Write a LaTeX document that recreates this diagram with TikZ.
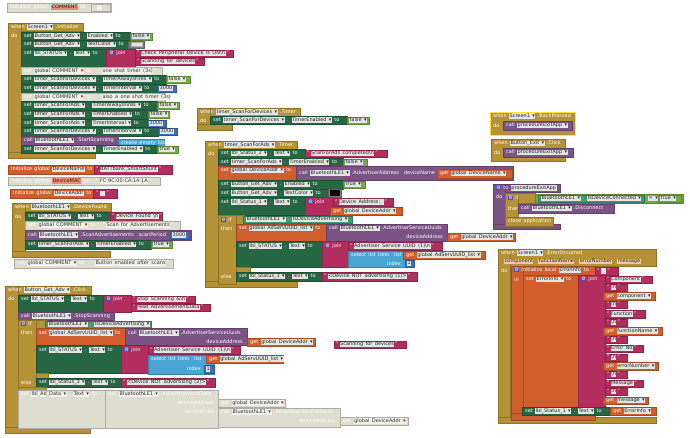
\documentclass[tikz,border=0pt]{standalone}
\usepackage{fontspec}
\setmainfont{DejaVu Sans}
\definecolor{gold}{RGB}{181,146,54}
\definecolor{dgreen}{RGB}{38,102,67}
\definecolor{lgreen}{RGB}{119,171,65}
\definecolor{teal2}{RGB}{67,153,112}
\definecolor{mag}{RGB}{179,45,94}
\definecolor{mblue}{RGB}{63,113,181}
\definecolor{orng}{RGB}{208,95,45}
\definecolor{purp}{RGB}{124,83,133}
\definecolor{lblue}{RGB}{73,166,212}
\definecolor{cgray}{RGB}{125,125,125}
\definecolor{dis}{RGB}{222,222,208}
\definecolor{fldc}{RGB}{226,229,226}
\definecolor{fldd}{RGB}{242,242,236}
\definecolor{fsal}{RGB}{238,140,115}
\definecolor{fpea}{RGB}{246,196,172}
\definecolor{gearc}{RGB}{70,80,190}
\definecolor{hil}{RGB}{250,225,60}
\newcommand\fs{\fontsize{5}{6}\selectfont\spaceskip=2.4pt plus 0.3pt}
\newcommand\fd[1]{{\setlength{\fboxsep}{0.5pt}\colorbox{fldc}{\textcolor{black!85}{\vphantom{Agy}#1}}}}
\newcommand\fdd[1]{{\setlength{\fboxsep}{0.5pt}\colorbox{fldd}{\textcolor{black!80}{\vphantom{Agy}#1}}}}
\newcommand\fds[1]{{\setlength{\fboxsep}{0.5pt}\colorbox{fsal}{\textcolor{black!85}{\vphantom{Agy}#1}}}}
\newcommand\fdp[1]{{\setlength{\fboxsep}{0.5pt}\colorbox{fpea}{\textcolor{black!85}{\vphantom{Agy}#1}}}}
\newcommand\gr{{\setlength{\fboxsep}{0.2pt}\colorbox{gearc}{\textcolor{white}{⚙}}}}
\newcommand\dd{▾}
\newcommand\rd{\textcolor{red!70!black}{▾}}
\newcommand\str[1]{“\,\fd{#1}\,”}
\newcommand\strd[1]{“\,\fdd{#1}\,”}
\newcommand\R[5]{\fill[#5,draw=#5!78!black,line width=0.3pt] (#1,#2) rectangle (#3,#4);}
\newcommand\T[3]{\node[tx] at (#1,#2) {#3};}
\newcommand\TE[3]{\node[txr] at (#1,#2) {#3};}
\begin{document}
\begin{tikzpicture}[x=1pt,y=-1pt,
  tx/.style={anchor=west,inner sep=0,text=white,font=\fs},
  txr/.style={anchor=east,inner sep=0,text=white,font=\fs}]
\fill[white] (0,0) rectangle (690,437);
\useasboundingbox (0,0) rectangle (690,437);

% ---- initialize global COMMENT (disabled)
\R{7}{3}{111}{12}{dis}
\T{10}{7.5}{initialize global \fds{COMMENT} to}
\R{91}{4}{110}{11}{dis}
\T{93}{7.5}{\strd{\ \ }}

% ---- Screen1.Initialize
\R{8}{23}{83}{31}{gold}
\R{8}{23}{21}{158}{gold}
\R{8}{152}{95}{158}{gold}
\T{11}{27}{when \fd{Screen1 \dd} .Initialize}
\T{11}{36}{do}
\R{21}{32}{130}{40}{dgreen}\T{24}{36}{set \fd{Button\_Get\_Adv \dd} . \fd{Enabled \dd} to}
\R{130}{33}{152}{40}{lgreen}\T{132}{36.5}{\fd{false \dd}}
\R{21}{40}{128}{49}{dgreen}\T{24}{44.5}{set \fd{Button\_Get\_Adv \dd} . \fd{TextColor \dd} to}
\R{128}{41}{144}{48}{cgray}\R{131}{42.5}{142}{46.5}{fldc}
\R{21}{49}{106}{67}{dgreen}\T{24}{53.5}{set \fd{lbl\_STATUS \dd} . \fd{Text \dd} to}
\R{106}{49}{135}{67}{mag}\T{109}{53.5}{\gr\ join}
\R{135}{50}{233}{57}{mag}\T{137}{53.5}{\str{Check Peripheral Device is ON\textbackslash n}}
\R{135}{58}{204}{65}{mag}\T{137}{61.5}{\str{Scanning for devices}}
\R{21}{67}{162}{75}{dis}\T{24}{71}{set \fdd{global COMMENT \rd} to \quad\strd{one shot timer (3s)}}
\R{21}{75}{166}{84}{dgreen}\T{24}{79.5}{set \fd{timer\_ScanForDevices \dd} . \fd{TimerAlwaysFires \dd} to}
\R{166}{76}{190}{83}{lgreen}\T{168}{79.5}{\fd{false \dd}}
\R{21}{84}{157}{93}{dgreen}\T{24}{88.5}{set \fd{timer\_ScanForDevices \dd} . \fd{TimerInterval \dd} to}
\R{157}{85}{176}{92}{mblue}\T{159}{88.5}{\fd{3000}}
\R{21}{93}{165}{101}{dis}\T{24}{97}{set \fdd{global COMMENT \rd} to \quad\strd{also a one shot timer (3s)}}
\R{21}{101}{157}{110}{dgreen}\T{24}{105.5}{set \fd{timer\_ScanForAds \dd} . \fd{TimerAlwaysFires \dd} to}
\R{157}{102}{179}{109}{lgreen}\T{159}{105.5}{\fd{false \dd}}
\R{21}{110}{148}{119}{dgreen}\T{24}{114.5}{set \fd{timer\_ScanForAds \dd} . \fd{TimerEnabled \dd} to}
\R{148}{111}{169}{118}{lgreen}\T{150}{114.5}{\fd{false \dd}}
\R{21}{119}{147}{127}{dgreen}\T{24}{123}{set \fd{timer\_ScanForAds \dd} . \fd{TimerInterval \dd} to}
\R{147}{120}{166}{127}{mblue}\T{149}{123.5}{\fd{3000}}
\R{21}{127}{158}{136}{dgreen}\T{24}{131.5}{set \fd{timer\_ScanForDevices \dd} . \fd{TimerInterval \dd} to}
\R{158}{128}{177}{135}{mblue}\T{160}{131.5}{\fd{3000}}
\R{21}{136}{118}{145}{purp}\T{24}{140.5}{call \fd{BluetoothLE1 \dd} .StartScanning}
\R{118}{139}{164}{147}{lblue}\T{121}{143}{create empty list}
\R{21}{145}{157}{153}{dgreen}\T{24}{149}{set \fd{timer\_ScanForDevices \dd} . \fd{TimerEnabled \dd} to}
\R{157}{146}{178}{153}{lgreen}\T{159}{149.5}{\fd{true \dd}}

% ---- global variables
\R{8}{165}{94}{174}{orng}\T{11}{169.5}{initialize global \fd{DeviceName} to}
\R{94}{165}{172}{174}{mag}\T{96}{169.5}{\str{BATTbank\_SmartShunt}}
\R{8}{177}{160}{185}{dis}\T{11}{181}{initialize global \fds{DeviceMAC} to \quad\strd{FC:9C:00:CA:14:1A}}
\R{10}{189}{93}{198}{orng}\T{13}{193.5}{initialize global \fd{DeviceAddr} to}
\R{93}{189}{117}{198}{mag}\T{96}{193.5}{\str{\ \ }}

% ---- BluetoothLE1.DeviceFound
\R{12}{203}{111}{211}{gold}
\R{12}{203}{25}{257}{gold}
\R{12}{251}{110}{257}{gold}
\T{15}{207}{when \fd{BluetoothLE1 \dd} .DeviceFound}
\T{15}{216.5}{do}
\R{25}{212}{110}{221}{dgreen}\T{28}{216.5}{set \fd{lbl\_STATUS \dd} . \fd{Text \dd} to}
\R{110}{212}{162}{221}{mag}\T{112}{216.5}{\str{Device Found \textbackslash n}}
\R{25}{221}{180}{230}{dis}\T{28}{225.5}{set \fdd{global COMMENT \rd} to \quad\strd{Scan for Advertisements}}
\R{25}{230}{191}{240}{purp}\T{28}{235}{call \fd{BluetoothLE1 \dd} .ScanAdvertisements\ \ scanPeriod}
\R{170}{231}{189}{239}{mblue}\T{172}{235}{\fd{3000}}
\R{25}{240}{151}{249}{dgreen}\T{28}{244.5}{set \fd{timer\_ScanForAds \dd} . \fd{TimerEnabled \dd} to}
\R{151}{241}{172}{248}{lgreen}\T{153}{244.5}{\fd{true \dd}}

\R{14}{259}{173}{268}{dis}\T{17}{263.5}{set \fdd{global COMMENT \rd} to \quad\strd{Button enabled after scans}}

% ---- Button_Get_Adv.Click
\R{5}{286}{91}{294}{gold}
\R{5}{286}{18}{433}{gold}
\R{5}{427}{90}{433}{gold}
\T{8}{290}{when \fd{Button\_Get\_Adv \dd} .Click}
\T{8}{299}{do}
\R{18}{295}{103}{312}{dgreen}\T{21}{299}{set \fd{lbl\_STATUS \dd} . \fd{Text \dd} to}
\R{103}{295}{131}{312}{mag}\T{106}{299}{\gr\ join}
\R{131}{296}{195}{303}{mag}\T{133}{299.5}{\str{Stop Scanning \&\textbackslash n}}
\R{131}{304}{210}{311}{mag}\T{133}{307.5}{\str{read AdvertisementData}}
\R{18}{312}{114}{320}{purp}\T{21}{316}{call \fd{BluetoothLE1 \dd} .StopScanning}
\R{18}{320}{46}{328}{gold}
\R{18}{320}{36}{390}{gold}
\T{21}{324}{\gr\ if}
\R{45}{321}{151}{328}{teal2}\T{48}{324.5}{\fd{BluetoothLE1 \dd} . \fd{IsDeviceAdvertising \dd}}
\T{21}{333}{then}
\R{36}{328}{125}{345}{orng}\T{39}{333}{set \fd{global AdServUUID\_list \dd} to}
\R{125}{328}{247}{345}{purp}\T{128}{333}{call \fd{BluetoothLE1 \dd} .AdvertiserServiceUuids}
\TE{243}{341.5}{deviceAddress}
\R{247}{338}{315}{346}{orng}\T{250}{342}{get \fd{global DeviceAddr \dd}}
\R{36}{345}{121}{373}{dgreen}\T{39}{350}{set \fd{lbl\_STATUS \dd} . \fd{Text \dd} to}
\R{121}{345}{148}{373}{mag}\T{124}{350}{\gr\ join}
\R{148}{346}{240}{354}{mag}\T{150}{350}{\str{Advertiser Service UUID (1)\textbackslash n}}
\R{148}{355}{214}{374}{lblue}\T{151}{359}{select list item\ \ list}
\TE{201}{369}{index}
\R{206}{355}{283}{363}{orng}\T{209}{359}{get \fd{global AdServUUID\_list \dd}}
\R{204}{365}{214}{373}{mblue}\T{206}{369}{\fd{1}}
\R{36}{373}{48}{378}{gold}
\T{21}{382.5}{else}
\R{36}{378}{121}{387}{dgreen}\T{39}{382.5}{set \fd{lbl\_Status\_3 \dd} . \fd{Text \dd} to}
\R{121}{378}{215}{387}{mag}\T{123}{382.5}{\str{<Device NOT advertising (2)>}}
\R{18}{387}{46}{390}{gold}
\R{18}{390}{105}{428}{dis}\T{21}{394.5}{set \fdd{lbl\_Ad\_Data \dd} . \fdd{Text \dd} to}
\R{105}{390}{218}{428}{dis}\T{108}{394.5}{call \fdd{BluetoothLE1 \dd} .AdvertisementData}
\TE{214}{403}{deviceAddress}
\TE{214}{412}{serviceUuid}
\R{218}{399}{285}{407}{dis}\T{221}{403}{get \fdd{global DeviceAddr \rd}}
\R{218}{408}{340}{427}{dis}\T{221}{412}{call \fdd{BluetoothLE1 \rd} .AdvertiserServiceUuids}
\TE{336}{421}{deviceAddress}
\R{340}{417}{408}{425}{dis}\T{343}{421}{get \fdd{global DeviceAddr \rd}}

\R{334}{341}{406}{348}{mag}\T{336}{344.5}{\str{Scanning for devices}}

% ---- timer_ScanForDevices.Timer
\R{197}{108}{300}{116}{gold}
\R{197}{108}{210}{130}{gold}
\R{197}{124}{232}{130}{gold}
\T{200}{112}{when \fd{timer\_ScanForDevices \dd} .Timer}
\T{200}{120.5}{do}
\R{210}{116}{347}{124}{dgreen}\T{213}{120}{set \fd{timer\_ScanForDevices \dd} . \fd{TimerEnabled \dd} to}
\R{347}{117}{369}{124}{lgreen}\T{349}{120.5}{\fd{false \dd}}

% ---- timer_ScanForAds.Timer
\R{205}{141}{297}{149}{gold}
\R{205}{141}{218}{287}{gold}
\R{205}{281}{297}{287}{gold}
\T{208}{145}{when \fd{timer\_ScanForAds \dd} .Timer}
\T{208}{153.5}{do}
\R{218}{149}{305}{158}{dgreen}\T{221}{153.5}{set \fd{lbl\_Status\_2 \dd} . \fd{Text \dd} to}
\R{305}{150}{387}{157}{mag}\T{307}{153.5}{\str{ScanForAds completed\textbackslash n}}
\R{218}{158}{343}{166}{dgreen}\T{221}{162}{set \fd{timer\_ScanForAds \dd} . \fd{TimerEnabled \dd} to}
\R{343}{159}{367}{166}{lgreen}\T{345}{162.5}{\fd{false \dd}}
\R{218}{166}{296}{180}{orng}\T{221}{170.5}{set \fd{global DeviceAddr \dd} to}
\R{296}{166}{513}{180}{purp}\T{299}{173}{call \fd{BluetoothLE1 \dd} .AdvertiserAddress\ \ deviceName}
\R{437}{169}{512}{178}{orng}\T{440}{173.5}{get \fd{global DeviceName \dd}}
\R{218}{180}{343}{189}{dgreen}\T{221}{184.5}{set \fd{Button\_Get\_Adv \dd} . \fd{Enabled \dd} to}
\R{343}{181}{365}{188}{lgreen}\T{345}{184.5}{\fd{true \dd}}
\R{218}{189}{328}{197}{dgreen}\T{221}{193}{set \fd{Button\_Get\_Adv \dd} . \fd{TextColor \dd} to}
\R{328}{189}{341}{197}{cgray}\R{330.5}{190.5}{339}{195.5}{black}
\R{218}{197}{305}{215}{dgreen}\T{221}{202}{set \fd{lbl\_Status\_1 \dd} . \fd{Text \dd} to}
\R{305}{197}{333}{215}{mag}\T{308}{202}{\gr\ join}
\R{333}{198}{393}{206}{mag}\T{335}{202}{\str{Device Address: }}
\R{330}{207}{402}{215}{orng}\T{333}{211}{get \fd{global DeviceAddr \dd}}
\R{218}{215}{244}{224}{gold}
\R{218}{215}{236}{284}{gold}
\T{221}{219.5}{\gr\ if}
\R{243}{216}{352}{223}{teal2}\T{246}{219.5}{\fd{BluetoothLE1 \dd} . \fd{IsDeviceAdvertising \dd}}
\T{221}{228.5}{then}
\R{236}{224}{326}{241}{orng}\T{239}{228.5}{set \fd{global AdServUUID\_list \dd} to}
\R{326}{224}{447}{241}{purp}\T{329}{228.5}{call \fd{BluetoothLE1 \dd} .AdvertiserServiceUuids}
\TE{443}{237}{deviceAddress}
\R{447}{233}{515}{241}{orng}\T{450}{237}{get \fd{global DeviceAddr \dd}}
\R{236}{241}{322}{267}{dgreen}\T{239}{246}{set \fd{lbl\_STATUS \dd} . \fd{Text \dd} to}
\R{322}{241}{348}{267}{mag}\T{325}{246}{\gr\ join}
\R{348}{242}{442}{250}{mag}\T{350}{246}{\str{Advertiser Service UUID (1)\textbackslash n}}
\R{348}{251}{414}{267}{lblue}\T{351}{255}{select list item\ \ list}
\TE{401}{263.5}{index}
\R{403}{251}{485}{259}{orng}\T{406}{255}{get \fd{global AdServUUID\_list \dd}}
\R{405}{260}{414}{267}{mblue}\T{407}{263.5}{\fd{1}}
\R{236}{267}{250}{272}{gold}
\T{221}{276.5}{else}
\R{236}{272}{322}{281}{dgreen}\T{239}{276.5}{set \fd{lbl\_Status\_3 \dd} . \fd{Text \dd} to}
\R{322}{272}{417}{281}{mag}\T{324}{276.5}{\str{<Device NOT advertising (1)>}}

% ---- Screen1.BackPressed
\R{490}{112}{575}{135}{gold}
\draw[hil,line width=1pt] (490,112) rectangle (575,135);
\T{493}{116}{when \fd{Screen1 \dd} .BackPressed}
\T{493}{125.5}{do}
\R{503}{121}{572}{130}{purp}\T{506}{125.5}{call \fd{procedureExitApp \dd}}

% ---- Button_Exit.Click
\R{491}{139}{565}{161}{gold}
\T{494}{143.5}{when \fd{Button\_Exit \dd} .Click}
\T{494}{152.5}{do}
\R{503}{148}{573}{157}{purp}\T{506}{152.5}{call \fd{procedureExitApp \dd}}

% ---- procedureExitApp
\R{493}{184}{560}{192}{purp}
\R{493}{184}{505}{229}{purp}
\R{493}{224}{560}{229}{purp}
\T{496}{188}{\gr\ to \fd{procedureExitApp}}
\T{496}{197}{do}
\R{505}{193}{535}{203}{gold}
\R{505}{193}{518}{217}{gold}
\T{508}{198}{\gr\ if}
\T{508}{208.5}{then}
\R{535}{194}{683}{203}{lgreen}
\R{538}{195}{644}{202}{teal2}\T{541}{198.5}{\fd{BluetoothLE1 \dd} . \fd{IsDeviceConnected \dd}}
\T{648}{198.5}{\fd{= \dd}}
\R{658}{195}{681}{202}{lgreen}\T{660}{198.5}{\fd{true \dd}}
\R{518}{204}{614}{213}{purp}\T{521}{208.5}{call \fd{BluetoothLE1 \dd} .Disconnect}
\R{505}{217}{553}{226}{gold}\T{508}{221.5}{close application}

% ---- Screen1.ErrorOccurred
\R{498}{249}{656}{266}{gold}
\R{498}{249}{510}{423}{gold}
\R{498}{417}{656}{423}{gold}
\T{501}{253}{when \fd{Screen1 \dd} .ErrorOccurred}
\T{504}{261.5}{\fdp{component}\ \ \fdp{functionName}\ \ \fdp{errorNumber}\ \ \fdp{message}}
\T{501}{270.5}{do}
\R{511}{266}{595}{275}{orng}
\R{511}{266}{523}{420}{orng}
\R{511}{413}{595}{420}{orng}
\T{514}{270.5}{\gr\ initialize local \fd{ErrorInfo} to}
\R{595}{267}{618}{275}{mag}\T{597}{271}{\str{\ \ }}
\T{514}{279.5}{in}
\R{523}{275}{578}{407}{orng}\T{526}{279.5}{set \fd{ErrorInfo \dd} to}
\R{578}{275}{605}{407}{mag}\T{581}{279.5}{\gr\ join}
\R{605}{276}{652}{283}{mag}\T{607}{279.5}{\str{Component}}
\R{605}{284}{627}{291}{mag}\T{607}{287.5}{\str{\textbackslash n}}
\R{603}{292}{655}{300}{orng}\T{606}{296}{get \fd{component \dd}}
\R{605}{301}{627}{308}{mag}\T{607}{304.5}{\str{\textbackslash n}}
\R{605}{310}{645}{318}{mag}\T{607}{314}{\str{Function}}
\R{605}{319}{627}{326}{mag}\T{607}{322.5}{\str{\textbackslash n}}
\R{603}{327}{662}{335}{orng}\T{606}{331}{get \fd{functionName \dd}}
\R{605}{336}{627}{343}{mag}\T{607}{339.5}{\str{\textbackslash n}}
\R{605}{345}{643}{352}{mag}\T{607}{348.5}{\str{Error No}}
\R{605}{354}{627}{361}{mag}\T{607}{357.5}{\str{\textbackslash n}}
\R{603}{362}{658}{370}{orng}\T{606}{366}{get \fd{errorNumber \dd}}
\R{605}{371}{627}{378}{mag}\T{607}{374.5}{\str{\textbackslash n}}
\R{605}{380}{643}{387}{mag}\T{607}{383.5}{\str{Message}}
\R{605}{388}{627}{395}{mag}\T{607}{391.5}{\str{\textbackslash n}}
\R{603}{397}{648}{404}{orng}\T{606}{400.5}{get \fd{message \dd}}
\R{522}{407}{610}{415}{dgreen}\T{525}{411}{set \fd{lbl\_Status\_1 \dd} . \fd{Text \dd} to}
\R{610}{407}{656}{415}{orng}\T{613}{411}{get \fd{ErrorInfo \dd}}
\end{tikzpicture}
\end{document}
